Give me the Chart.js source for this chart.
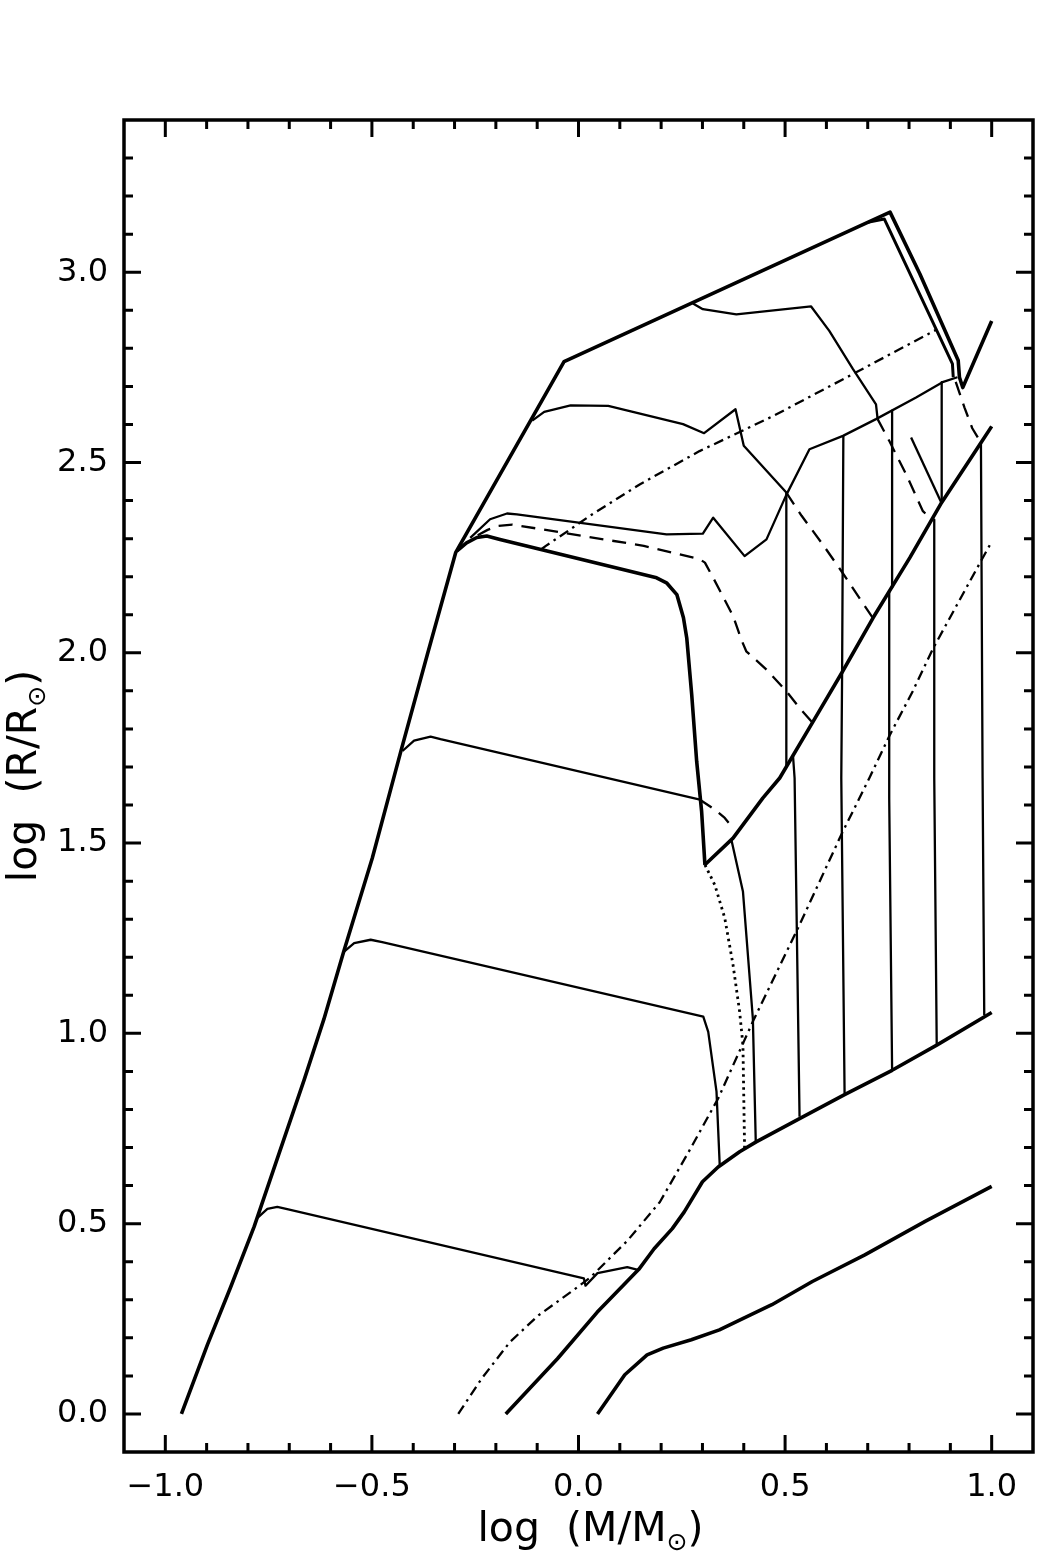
<!DOCTYPE html>
<html><head><meta charset="utf-8">
<script src="https://cdn.jsdelivr.net/npm/chart.js@4/dist/chart.umd.min.js"></script>
<style>html,body{margin:0;padding:0;background:#fff;}</style>
</head><body>
<canvas id="c" width="1037" height="1560"></canvas>
<script>
// ---- axis ticks ----
const xTicks = [-1.0, -0.5, 0.0, 0.5, 1.0];
const yTicks = [0.0, 0.5, 1.0, 1.5, 2.0, 2.5, 3.0];

// ---- curves [logM, logR] ----
const envelope = [[-0.961,0.0],[-0.898,0.182],[-0.842,0.333],[-0.785,0.492],[-0.729,0.671],[-0.664,0.878],[-0.616,1.038],[-0.568,1.216],[-0.499,1.461],[-0.430,1.741],[-0.366,1.995],[-0.297,2.264],[-0.116,2.610],[-0.035,2.765],[0.754,3.158],[0.826,2.996],[0.919,2.768],[0.922,2.724],[0.930,2.697],[1.0,2.872]];
const innerTop = [[0.700,3.131],[0.740,3.140],[0.905,2.759],[0.907,2.724]];
const track05 = [[-0.777,0.515],[-0.753,0.539],[-0.729,0.544],[-0.705,0.538],[0.013,0.356],[0.017,0.337],[0.046,0.370],[0.118,0.386],[0.146,0.378]];
const track12 = [[-0.568,1.214],[-0.543,1.237],[-0.503,1.246],[-0.475,1.240],[0.302,1.044],[0.314,1.004],[0.334,0.847],[0.342,0.649]];
const track17 = [[-0.426,1.742],[-0.398,1.769],[-0.358,1.780],[-0.334,1.773],[0.294,1.614]];
const track17dash = [[0.294,1.614],[0.330,1.588],[0.354,1.566],[0.374,1.539]];
const track17low = [[0.370,1.509],[0.398,1.373],[0.422,1.039],[0.429,0.715]];
const track23 = [[-0.294,2.268],[-0.271,2.289],[-0.246,2.303],[-0.222,2.307],[-0.190,2.298],[0.189,2.197],[0.213,2.184],[0.238,2.153],[0.254,2.092],[0.262,2.039],[0.274,1.890],[0.286,1.715],[0.298,1.583],[0.306,1.443]];
const diagThick = [[0.306,1.443],[0.374,1.513],[0.446,1.618],[0.487,1.671],[0.568,1.820],[0.637,1.947],[0.713,2.092],[0.802,2.250],[0.879,2.395],[0.976,2.555],[1.0,2.595]];
const track235 = [[-0.262,2.302],[-0.214,2.351],[-0.173,2.366],[-0.149,2.364],[0.213,2.311],[0.301,2.313],[0.326,2.355],[0.402,2.254],[0.455,2.298],[0.503,2.415],[0.559,2.535],[0.640,2.570],[0.720,2.614],[0.817,2.671],[0.881,2.711],[0.917,2.724]];
const track26 = [[-0.112,2.610],[-0.083,2.633],[-0.019,2.650],[0.072,2.649],[0.253,2.601],[0.304,2.577],[0.380,2.640],[0.400,2.544],[0.503,2.421]];
const track26dash = [[0.503,2.421],[0.540,2.360],[0.591,2.285],[0.636,2.215],[0.712,2.092]];
const track29 = [[0.277,2.918],[0.301,2.903],[0.382,2.889],[0.563,2.910],[0.607,2.846],[0.664,2.746],[0.720,2.653],[0.724,2.614]];
const track29dash = [[0.724,2.614],[0.752,2.557],[0.793,2.469],[0.833,2.373],[0.857,2.347]];
const rightDash = [[0.913,2.712],[0.934,2.645],[0.953,2.590],[0.974,2.552]];
const shortSeg = [[0.805,2.566],[0.878,2.395]];
const dashDotUpper = [[-0.090,2.272],[-0.079,2.281],[-0.027,2.319],[0.029,2.361],[0.149,2.443],[0.293,2.530],[0.471,2.622],[0.672,2.737],[0.866,2.849]];
const dashDotLower = [[-0.291,0.0],[-0.235,0.092],[-0.166,0.189],[-0.097,0.259],[-0.019,0.320],[0.030,0.360],[0.119,0.456],[0.197,0.557],[0.271,0.697],[0.338,0.829],[0.422,1.031],[0.531,1.276],[0.636,1.522],[0.704,1.671],[0.752,1.781],[0.809,1.899],[0.857,2.009],[0.921,2.136],[0.974,2.241],[1.0,2.292]];
const dashedLower = [[-0.244,2.309],[-0.220,2.323],[-0.196,2.333],[-0.160,2.337],[0.158,2.281],[0.293,2.246],[0.306,2.237],[0.326,2.197],[0.374,2.097],[0.394,2.035],[0.406,2.004],[0.455,1.956],[0.503,1.899],[0.535,1.855],[0.567,1.816]];
const dotted = [[0.306,1.443],[0.330,1.390],[0.354,1.303],[0.374,1.180],[0.390,1.057],[0.398,0.969],[0.402,0.697]];
const vert1a = [[0.503,2.421],[0.503,1.700]];
const vert1b = [[0.519,1.732],[0.523,1.671],[0.535,0.781]];
const vert2 = [[0.641,2.570],[0.638,1.947],[0.636,1.671],[0.644,0.842]];
const vert3a = [[0.759,2.636],[0.759,2.171]];
const vert3b = [[0.752,2.162],[0.752,1.618],[0.759,0.903]];
const vert4a = [[0.879,2.711],[0.879,2.395]];
const vert4b = [[0.861,2.350],[0.861,1.671],[0.867,0.969]];
const vert5 = [[0.974,2.552],[0.978,1.671],[0.982,1.048]];
const lowerBound = [[-0.176,0.0],[-0.051,0.145],[0.045,0.267],[0.146,0.380],[0.183,0.434],[0.227,0.487],[0.256,0.531],[0.300,0.610],[0.338,0.649],[0.390,0.689],[0.430,0.715],[0.535,0.776],[0.644,0.839],[0.759,0.903],[0.867,0.969],[1.0,1.055]];
const lowest = [[0.046,0.0],[0.112,0.103],[0.166,0.155],[0.205,0.173],[0.273,0.195],[0.341,0.221],[0.400,0.252],[0.468,0.287],[0.566,0.348],[0.693,0.418],[0.839,0.506],[1.0,0.598]];

const THICK = 3.6, THIN = 2.3;
const DASH = [14, 9], DASHDOT = [10, 5, 2.5, 5], DOT = [2.5, 4];

function ds(points, w, dash) {
  return {
    data: points.map(p => ({x: p[0], y: p[1]})),
    showLine: true, borderColor: '#000', backgroundColor: '#000',
    borderWidth: w, borderDash: dash || [], pointRadius: 0, pointHoverRadius: 0,
    fill: false, tension: 0, borderJoinStyle: 'round', borderCapStyle: 'butt'
  };
}

const datasets = [
  ds(envelope, THICK), ds(innerTop, 3.0), ds(track05, THIN), ds(track12, THIN),
  ds(track17, THIN), ds(track17dash, THIN, DASH), ds(track17low, THIN),
  ds(track23, THICK), ds(diagThick, THICK), ds(track235, THIN),
  ds(track26, THIN), ds(track26dash, THIN, DASH), ds(track29, THIN), ds(track29dash, THIN, DASH),
  ds(rightDash, THIN, DASH), ds(shortSeg, THIN),
  ds(dashDotUpper, THIN, DASHDOT), ds(dashDotLower, THIN, DASHDOT),
  ds(dashedLower, THIN, DASH), ds(dotted, 2.8, DOT),
  ds(vert1a, THIN), ds(vert1b, THIN), ds(vert2, THIN), ds(vert3a, THIN), ds(vert3b, THIN),
  ds(vert4a, THIN), ds(vert4b, THIN), ds(vert5, THIN),
  ds(lowerBound, THICK), ds(lowest, THICK)
];

const FONT = '"DejaVu Sans", "Liberation Sans", Arial, sans-serif';
const fmt = v => (v < 0 ? '\u2212' : '') + Math.abs(v).toFixed(1);
const TITLE_SIZE = 41, SUB_SIZE = 25, SUB_DROP = 9;

function drawTitle(ctx, parts) {
  let total = 0;
  const widths = parts.map(([t, sub]) => {
    ctx.font = (sub ? SUB_SIZE : TITLE_SIZE) + 'px ' + FONT;
    const w = ctx.measureText(t).width; total += w; return w;
  });
  let xpos = -total / 2;
  parts.forEach(([t, sub], i) => {
    ctx.font = (sub ? SUB_SIZE : TITLE_SIZE) + 'px ' + FONT;
    ctx.fillText(t, xpos, sub ? SUB_DROP : 0);
    xpos += widths[i];
  });
}

const axesPlugin = {
  id: 'idlAxes',
  afterDatasetsDraw(chart) {
    const {ctx, chartArea: a, scales: {x, y}} = chart;
    ctx.save();
    ctx.strokeStyle = '#000';
    ctx.lineWidth = 3;
    ctx.beginPath();
    for (let i = Math.ceil(x.min * 10 + 1e-6); i <= Math.floor(x.max * 10 - 1e-6); i++) {
      const px = x.getPixelForValue(i / 10);
      const L = (i % 5 === 0) ? 17 : 9;
      ctx.moveTo(px, a.bottom); ctx.lineTo(px, a.bottom - L);
      ctx.moveTo(px, a.top); ctx.lineTo(px, a.top + L);
    }
    for (let i = Math.ceil(y.min * 10 + 1e-6); i <= Math.floor(y.max * 10 - 1e-6); i++) {
      const py = y.getPixelForValue(i / 10);
      const L = (i % 5 === 0) ? 17 : 9;
      ctx.moveTo(a.left, py); ctx.lineTo(a.left + L, py);
      ctx.moveTo(a.right, py); ctx.lineTo(a.right - L, py);
    }
    ctx.stroke();
    ctx.lineWidth = 3.5;
    ctx.strokeRect(a.left, a.top, a.right - a.left, a.bottom - a.top);

    ctx.fillStyle = '#000';
    ctx.textBaseline = 'alphabetic';
    ctx.textAlign = 'left';
    ctx.save();
    ctx.translate((a.left + a.right) / 2 + 12, 1541);
    drawTitle(ctx, [['log  (M/M', false], ['\u2299', true], [')', false]]);
    ctx.restore();
    ctx.save();
    ctx.translate(36, (a.top + a.bottom) / 2 - 10);
    ctx.rotate(-Math.PI / 2);
    drawTitle(ctx, [['log  (R/R', false], ['\u2299', true], [')', false]]);
    ctx.restore();
    ctx.restore();
  }
};

new Chart(document.getElementById('c'), {
  type: 'scatter',
  data: {datasets},
  options: {
    responsive: false, animation: false, devicePixelRatio: 1,
    layout: {padding: {top: 120, right: 4, left: 0, bottom: 0}},
    plugins: {legend: {display: false}, tooltip: {enabled: false}, title: {display: false}},
    events: [],
    scales: {
      x: {
        type: 'linear', position: 'bottom', min: -1.1, max: 1.1,
        grid: {display: false, drawTicks: false}, border: {display: false},
        afterBuildTicks: s => { s.ticks = xTicks.map(v => ({value: v})); },
        afterFit: s => { s.height = 108; },
        ticks: {color: '#000', font: {family: FONT, size: 32}, padding: 16, maxRotation: 0, autoSkip: false,
                callback: v => fmt(v)}
      },
      y: {
        type: 'linear', position: 'left', min: -0.1, max: 3.4,
        grid: {display: false, drawTicks: false}, border: {display: false},
        afterBuildTicks: s => { s.ticks = yTicks.map(v => ({value: v})); },
        afterFit: s => { s.width = 124; },
        ticks: {color: '#000', font: {family: FONT, size: 32}, padding: 16, autoSkip: false,
                callback: v => fmt(v)}
      }
    }
  },
  plugins: [axesPlugin]
});
</script>
</body></html>
